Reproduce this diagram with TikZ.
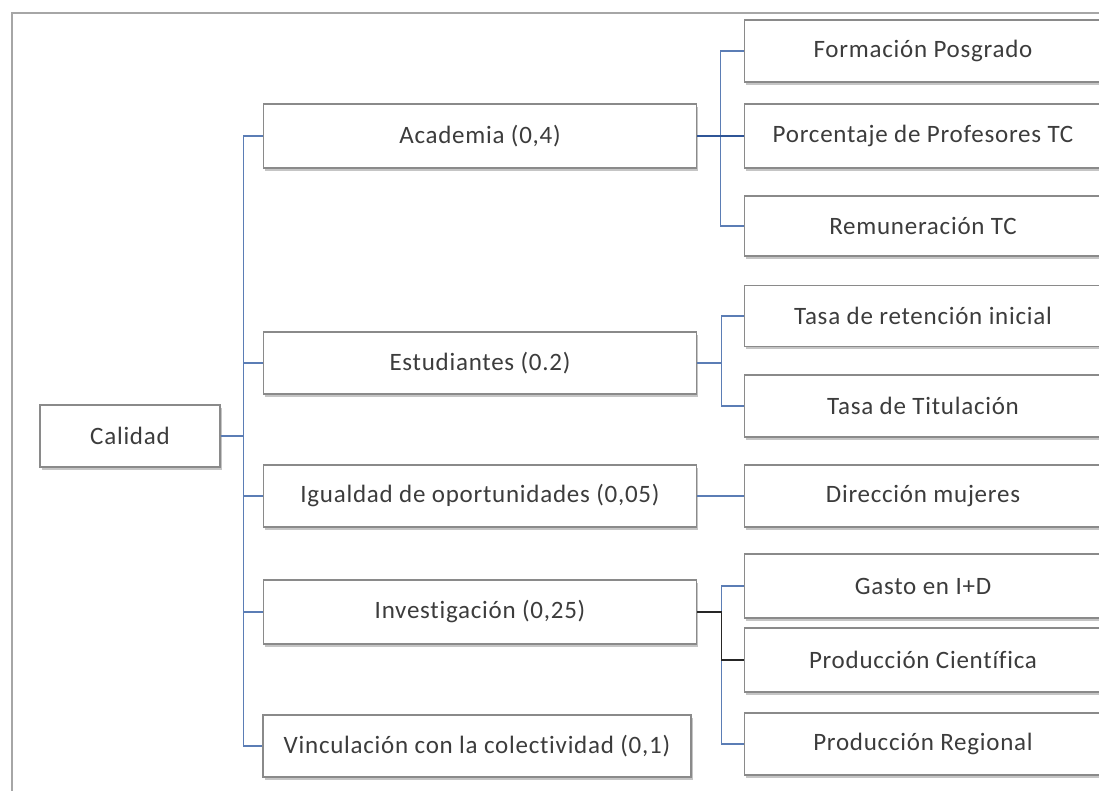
\documentclass[tikz,border=0pt]{standalone}
\usepackage{fontspec}
\setmainfont{Carlito}[Ligatures=NoCommon, LetterSpace=3]
\usetikzlibrary{shadows}
\definecolor{conector}{HTML}{5B7DB5}
\definecolor{conectorfuerte}{HTML}{2F5597}
\definecolor{borde}{HTML}{8A8A8A}
\definecolor{texto}{HTML}{3C3C3C}
\tikzset{
    caja/.style={draw=borde, line width=0.6pt, fill=white, text=texto,
        font=\fontsize{12.5}{14}\selectfont, inner sep=0pt,
        drop shadow={shadow xshift=0.8pt, shadow yshift=-1.3pt, fill=black!45, opacity=0.5}},
    raiz/.style={caja, minimum width=90pt, minimum height=31pt},
    nivel/.style={caja, minimum width=216.5pt, minimum height=31pt},
    hoja/.style={caja, minimum width=178.5pt, minimum height=31pt},
    linea/.style={draw=conector, line width=0.6pt},
}
\begin{document}
\begin{tikzpicture}[x=0.5pt, y=-0.5pt]
    \path[use as bounding box, clip] (0,0) rectangle (1099,791);
    \fill[white] (0,0) rectangle (1099,791);
    % Marco exterior
    \draw[draw=black!35, line width=1pt] (12,13) rectangle (1130,830);

    % Nodo raiz
    \node[raiz] (calidad) at (130,436) {Calidad};

    % Criterios
    \node[nivel, minimum height=32pt] (acad) at (480,136) {Academia (0,4)};
    \node[nivel] (estu) at (480,363) {Estudiantes (0.2)};
    \node[nivel] (igual) at (480,496) {Igualdad de oportunidades (0,05)};
    \node[nivel, minimum height=32pt] (inv) at (480,612) {Investigación (0,25)};
    \node[nivel, minimum width=214pt] (vinc) at (477,746) {Vinculación con la colectividad (0,1)};

    % Indicadores
    \node[hoja] (form) at (923,51) {Formación Posgrado};
    \node[hoja, minimum height=32pt] (porc) at (923,136) {Porcentaje de Profesores TC};
    \node[hoja, minimum height=30pt] (remu) at (923,226) {Remuneración TC};
    \node[hoja, minimum height=30.5pt] (ret) at (923,316) {Tasa de retención inicial};
    \node[hoja] (titu) at (923,406) {Tasa de Titulación};
    \node[hoja] (dir) at (923,496) {Dirección mujeres};
    \node[hoja, minimum height=32pt] (gasto) at (923,586) {Gasto en I+D};
    \node[hoja, minimum height=32pt] (cient) at (923,660) {Producción Científica};
    \node[hoja] (regio) at (923,744) {Producción Regional};

    % Conectores de la raiz
    \foreach \n in {acad,estu,igual,inv,vinc}
        \draw[linea] (calidad.east) -- ++(23,0) |- (\n.west);

    % Conectores de Academia
    \draw[linea] (acad.east) -- ++(23,0) |- (form.west);
    \draw[linea] (acad.east) -- ++(23,0) |- (remu.west);
    \draw[draw=conectorfuerte, line width=1.2pt] (acad.east) -- (porc.west);

    % Conectores de Estudiantes e Igualdad
    \draw[linea] (estu.east) -- ++(24,0) |- (ret.west);
    \draw[linea] (estu.east) -- ++(24,0) |- (titu.west);
    \draw[linea] (igual.east) -- (dir.west);

    % Conectores de Investigacion
    \draw[linea] (inv.east) -- ++(24,0) |- (gasto.west);
    \draw[linea] (inv.east) -- ++(24,0) |- (regio.west);
    \draw[draw=black!85, line width=0.6pt] (inv.east) -- ++(24,0) |- (cient.west);
\end{tikzpicture}
\end{document}
